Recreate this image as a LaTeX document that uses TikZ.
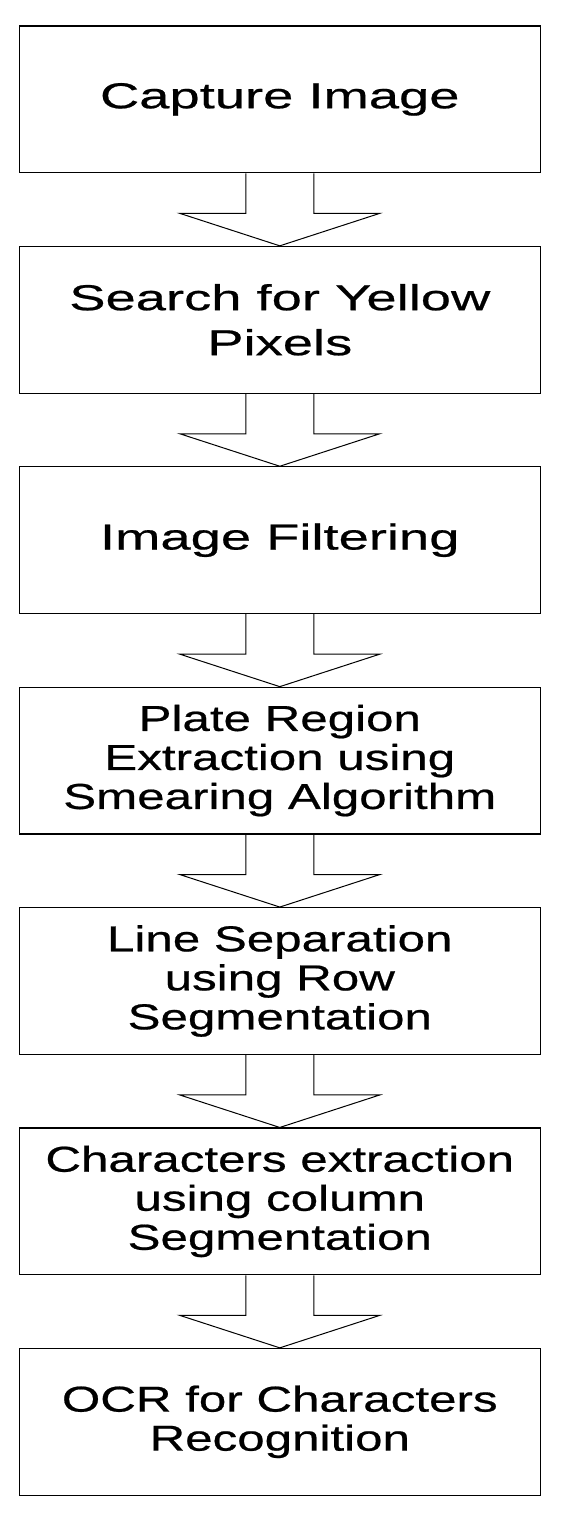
\documentclass[tikz,border=0pt]{standalone}
\usepackage{fontspec}
\setmainfont{Liberation Sans}
\newfontfamily\widetop{Liberation Sans}[FakeStretch=1.51, FakeBold=0.6]
\newfontfamily\widelow{Liberation Sans}[FakeStretch=1.37, FakeBold=0.6]
\usetikzlibrary{calc,positioning}
\tikzstyle{stage} = [rectangle, minimum width=521pt, minimum height=146.7pt, inner sep=0pt, text centered, align=center, draw=black, line width=1.2pt]
\tikzstyle{stagetop} = [stage, font=\widetop\fontsize{36pt}{45pt}\selectfont]
\tikzstyle{stagelow} = [stage, font=\widelow\fontsize{36pt}{39pt}\selectfont]
\tikzstyle{hollow} = [draw=black, line width=1pt, line join=miter]

\begin{document}
\begin{tikzpicture}[x=1pt, y=1pt, node distance=220.4pt, on grid]
\useasboundingbox (0,0) rectangle (562,-1522);
%nodes
\node (capture) [stagetop] at (279.8,-99.4) {Capture Image};
\node (yellow) [stagetop, below=of capture] {Search for Yellow\\Pixels};
\node (filter) [stagetop, below=of yellow] {Image Filtering};
\node (plate) [stagelow, below=of filter] {Plate Region\\Extraction using\\Smearing Algorithm};
\node (rows) [stagelow, below=of plate] {Line Separation\\using Row\\Segmentation};
\node (cols) [stagelow, below=of rows] {Characters extraction\\using column\\Segmentation};
\node (ocr) [stagelow, below=of cols] {OCR for Characters\\Recognition};

%arrows
\foreach \from/\to in {capture/yellow, yellow/filter, filter/plate, plate/rows, rows/cols, cols/ocr}
  \draw [hollow] ($(\from.south)+(-34,0)$) -- ++(0,-40) -- ++(-66,0) -- (\to.north)
    -- ($(\from.south)+(100,-40)$) -- ++(-66,0) -- ++(0,40);
\end{tikzpicture}
\end{document}
